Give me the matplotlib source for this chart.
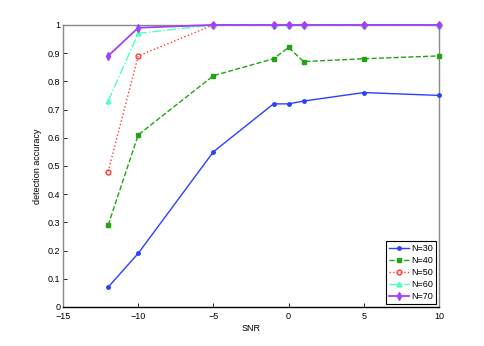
import numpy as np
import matplotlib
matplotlib.use("Agg")
import matplotlib.pyplot as plt

# SNR values and detection accuracy for each N
snr = [-12, -10, -5, -1, 0, 1, 5, 10]
acc_n30 = [0.07, 0.19, 0.55, 0.72, 0.72, 0.73, 0.76, 0.75]
acc_n40 = [0.29, 0.61, 0.82, 0.88, 0.92, 0.87, 0.88, 0.89]
acc_n50 = [0.48, 0.89, 1.0, 1.0, 1.0, 1.0, 1.0, 1.0]
acc_n60 = [0.73, 0.97, 1.0, 1.0, 1.0, 1.0, 1.0, 1.0]
acc_n70 = [0.89, 0.99, 1.0, 1.0, 1.0, 1.0, 1.0, 1.0]
labels = ["N=30", "N=40", "N=50", "N=60", "N=70"]

plt.rcParams['font.family'] = ['Liberation Sans', 'DejaVu Sans']
plt.rcParams['font.size'] = 6.5

fig = plt.figure(figsize=(4.85, 3.46), dpi=100)
ax = fig.add_axes([0.130, 0.113, 0.775, 0.815])

# lines drawn unclipped so the values at 1 sit on top of the frame like in MATLAB
ax.plot(snr, acc_n30, '-', color='#2a40ff', marker='.', markersize=5, linewidth=1.0, label=labels[0], clip_on=False, zorder=3)
ax.plot(snr, acc_n40, '--', color='#22a314', marker='s', markersize=3.5, linewidth=1.0, label=labels[1], clip_on=False, zorder=3)
ax.plot(snr, acc_n50, ':', color='#ff3a3a', marker='o', markersize=3.5, markerfacecolor='none', linewidth=1.0, label=labels[2], clip_on=False, zorder=3)
ax.plot(snr, acc_n60, '-.', color='#4dffc0', marker='^', markersize=3.5, linewidth=1.0, label=labels[3], clip_on=False, zorder=3)
ax.plot(snr, acc_n70, '-', color='#a040ff', marker='d', markersize=4, linewidth=1.3, label=labels[4], clip_on=False, zorder=4)

ax.set_xlim(-15, 10)
ax.set_ylim(0, 1)
ax.set_xticks([-15, -10, -5, 0, 5, 10])
ax.set_yticks(np.arange(0, 1.01, 0.1))
ax.set_yticklabels(['0', '0.1', '0.2', '0.3', '0.4', '0.5', '0.6', '0.7', '0.8', '0.9', '1'])
ax.tick_params(direction='in', length=3, width=0.6, pad=2)
ax.tick_params(axis='x', pad=4)
for s in ax.spines.values():
    s.set_color('#888888')
    s.set_linewidth(1.0)
    s.set_zorder(2)
ax.spines['bottom'].set_color('black')

ax.set_xlabel('SNR', labelpad=2)
ax.set_ylabel('detection accuracy', labelpad=4)

leg = ax.legend(loc='lower right', fancybox=False, edgecolor='black', framealpha=1,
                handlelength=2.2, handletextpad=0.3, borderpad=0.3, labelspacing=0.35,
                borderaxespad=0.3)
leg.get_frame().set_linewidth(0.8)
leg.set_zorder(5)

fig.savefig('out.png', dpi=100)
